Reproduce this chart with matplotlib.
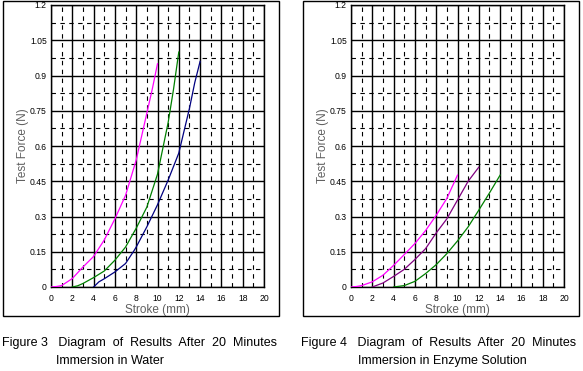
import matplotlib.pyplot as plt
from matplotlib.patches import Rectangle

plt.rcParams['font.family'] = ['Liberation Sans', 'DejaVu Sans']

# ---- data ----
# Figure 3: after 20 minutes in water
w_mag_x = [0, 0.5, 1, 2, 3, 4, 5, 6, 7, 8, 9, 9.5, 10]
w_mag_y = [0, 0.002, 0.006, 0.036, 0.085, 0.13, 0.2, 0.29, 0.39, 0.54, 0.74, 0.84, 0.95]
w_grn_x = [2, 2.5, 3, 4, 5, 6, 7, 8, 9, 10, 11, 11.5, 12]
w_grn_y = [0, 0.005, 0.015, 0.04, 0.068, 0.114, 0.17, 0.25, 0.34, 0.48, 0.70, 0.84, 1.0]
w_nav_x = [4, 4.5, 5, 6, 7, 7.8, 8, 9, 10, 11, 12, 13, 13.5, 14]
w_nav_y = [0, 0.022, 0.035, 0.064, 0.1, 0.155, 0.17, 0.256, 0.35, 0.455, 0.57, 0.76, 0.87, 0.96]

# Figure 4: after 20 minutes in enzyme solution
e_mag_x = [0, 0.5, 1, 2, 3, 4, 5, 6, 7, 8, 9, 10]
e_mag_y = [0, 0.002, 0.006, 0.022, 0.05, 0.092, 0.138, 0.185, 0.24, 0.305, 0.377, 0.476]
e_pur_x = [2, 3, 4, 5, 6, 7, 8, 9, 10, 11, 12]
e_pur_y = [0, 0.017, 0.045, 0.075, 0.117, 0.163, 0.23, 0.29, 0.37, 0.45, 0.51]
e_grn_x = [4, 5, 6, 7, 8, 9, 10, 11, 12, 13, 14]
e_grn_y = [0, 0.006, 0.024, 0.057, 0.095, 0.142, 0.196, 0.256, 0.327, 0.40, 0.476]

x_ticks = list(range(0, 21, 2))
y_ticks = [0, 0.15, 0.3, 0.45, 0.6, 0.75, 0.9, 1.05, 1.2]
y_labels = ['0', '0.15', '0.3', '0.45', '0.6', '0.75', '0.9', '1.05', '1.2']

cap_line1 = ['Figure 3   Diagram  of  Results  After  20  Minutes',
             'Figure 4   Diagram  of  Results  After  20  Minutes']
cap_line2 = ['Immersion in Water', 'Immersion in Enzyme Solution']

series = [
    [(w_mag_x, w_mag_y, '#ff00ff'), (w_grn_x, w_grn_y, '#008000'), (w_nav_x, w_nav_y, '#000080')],
    [(e_mag_x, e_mag_y, '#ff00ff'), (e_pur_x, e_pur_y, '#800080'), (e_grn_x, e_grn_y, '#008000')],
]

W, H = 583, 371
fig = plt.figure(figsize=(W / 100, H / 100), dpi=100)

panel_left = [51, 351]
box_left = [3, 303]
cap_left = [2, 301]
cap2_left = [56, 358]

for i in range(2):
    # outer frame round each panel
    fig.patches.append(Rectangle((box_left[i] / W, 1 - 316 / H), 276 / W, 315.5 / H,
                                 transform=fig.transFigure, fill=False,
                                 edgecolor='black', linewidth=1))

    ax = fig.add_axes([panel_left[i] / W, 1 - 287 / H, 213 / W, 282 / H])
    for x, y, c in series[i]:
        ax.plot(x, y, color=c, linewidth=0.9, zorder=3)

    ax.set_xlim(0, 20)
    ax.set_ylim(0, 1.2)
    ax.set_xticks(x_ticks)
    ax.set_xticks(range(1, 20, 2), minor=True)
    ax.set_yticks(y_ticks)
    ax.set_yticklabels(y_labels)
    ax.set_yticks([0.075 + 0.15 * k for k in range(8)], minor=True)
    ax.grid(True, which='major', color='black', linewidth=1)
    ax.grid(True, which='minor', color='black', linewidth=0.8, linestyle=(0, (4, 4)))
    ax.tick_params(which='both', length=0, labelsize=6.2)
    ax.tick_params(axis='x', pad=5)
    ax.tick_params(axis='y', pad=3)
    for s in ax.spines.values():
        s.set_linewidth(1)
    ax.set_xlabel('Stroke (mm)', fontsize=8.5, color='#606060', labelpad=1)
    ax.set_ylabel('Test Force (N)', fontsize=8.5, color='#606060', labelpad=1)

    fig.text(cap_left[i] / W, 1 - 343 / H, cap_line1[i], fontsize=9,
             va='center', ha='left')
    fig.text(cap2_left[i] / W, 1 - 361 / H, cap_line2[i], fontsize=9,
             va='center', ha='left')

fig.savefig('out.png', dpi=100)
